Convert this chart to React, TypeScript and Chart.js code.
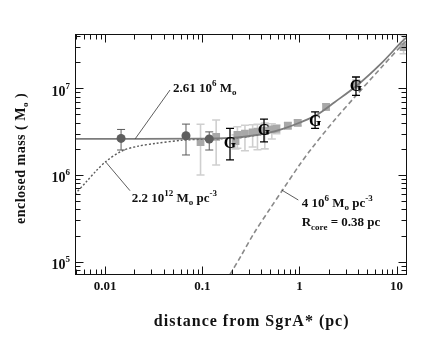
import React, { useEffect, useRef } from 'react';
import { Chart, registerables } from 'chart.js';

Chart.register(...registerables);

// ---- axis ranges & ticks ----
const X_MIN = 0.0049;
const X_MAX = 12.8;
const Y_MIN = 7.1e4;
const Y_MAX = 4.23e7;
const xMajorTicks = [0.01, 0.1, 1, 10];
const xTickLabels = ['0.01', '0.1', '1', '10'];
const yMajorTicks = [1e5, 1e6, 1e7];
const yTickExponents = ['5', '6', '7'];
const minorMultipliers = [2, 3, 4, 5, 6, 7, 8, 9];
const xDecades = [0.001, 0.01, 0.1, 1];
const yDecades = [1e4, 1e5, 1e6, 1e7];

// ---- model curves ----
const solidX = [0.0049, 0.1, 0.2, 0.3, 0.5, 0.7, 1.0, 1.5, 2.3, 4.0, 7.0, 11.2, 12.8];
const solidY = [2.61e6, 2.62e6, 2.68e6, 2.8e6, 3.1e6, 3.45e6, 4.0e6, 4.9e6, 6.9e6, 1.1e7, 1.95e7, 3.4e7, 3.9e7];

const dotX = [0.0049, 0.0065, 0.008, 0.0101, 0.015, 0.022, 0.033, 0.0625, 0.1, 0.2, 0.3, 0.5];
const dotY = [6.0e5, 8.5e5, 1.1e6, 1.42e6, 1.9e6, 2.15e6, 2.31e6, 2.52e6, 2.58e6, 2.65e6, 2.78e6, 3.08e6];

const dashX = [0.193, 0.249, 0.342, 0.5, 0.671, 1.0, 1.3, 2.3, 3.7, 7.0, 11.2, 12.8];
const dashY = [7.1e4, 1.15e5, 2.14e5, 4.1e5, 6.7e5, 1.3e6, 1.94e6, 4.3e6, 7.9e6, 1.75e7, 3.1e7, 3.6e7];

// ---- data points ----
const circleX = [0.0146, 0.068, 0.118];
const circleY = [2.64e6, 2.83e6, 2.6e6];
const circleLo = [1.94e6, 1.7e6, 1.94e6];
const circleHi = [3.35e6, 3.86e6, 3.14e6];

const squareX = [0.096, 0.139, 0.22, 0.23, 0.275, 0.33, 0.37, 0.44, 0.52, 0.58, 0.76, 0.96, 1.88, 3.85, 11.8];
const squareY = [2.39e6, 2.75e6, 2.45e6, 2.9e6, 3.0e6, 3.1e6, 3.15e6, 3.25e6, 3.35e6, 3.4e6, 3.7e6, 4.0e6, 6.1e6, 1.12e7, 2.98e7];
const squareLo = [1.0e6, 1.3e6, 2.0e6, 2.03e6, 1.9e6, 2.1e6, 1.95e6, 2.0e6, 2.6e6, 3.0e6, 3.4e6, 3.7e6, 5.6e6, 1.0e7, 2.5e7];
const squareHi = [3.85e6, 4.3e6, 2.9e6, 3.6e6, 3.75e6, 3.8e6, 3.85e6, 3.96e6, 3.9e6, 3.8e6, 4.0e6, 4.3e6, 6.6e6, 1.25e7, 4.1e7];

const gX = [0.193, 0.432, 1.45, 3.82];
const gY = [2.33e6, 3.29e6, 4.2e6, 1.08e7];
const gLo = [1.49e6, 2.41e6, 3.44e6, 8.3e6];
const gHi = [3.44e6, 4.4e6, 5.35e6, 1.35e7];

const FONT = '"Liberation Serif", "Times New Roman", Times, serif';

type Seg = { t: string; s: number; dy?: number };

function richWidth(ctx: CanvasRenderingContext2D, segs: Seg[]) {
  let w = 0;
  for (const g of segs) {
    ctx.font = `bold ${g.s}px ${FONT}`;
    w += ctx.measureText(g.t).width;
  }
  return w;
}

function drawRich(ctx: CanvasRenderingContext2D, x: number, y: number, segs: Seg[]) {
  ctx.textAlign = 'left';
  ctx.textBaseline = 'alphabetic';
  let cx = x;
  for (const g of segs) {
    ctx.font = `bold ${g.s}px ${FONT}`;
    ctx.fillText(g.t, cx, y + (g.dy || 0));
    cx += ctx.measureText(g.t).width;
  }
}

const pts = (xs: number[], ys: number[]) => xs.map((x, i) => ({ x, y: ys[i] }));

function drawBars(chart: any, xs: number[], lo: number[], hi: number[], color: string, lw: number, cap: number) {
  const ctx = chart.ctx as CanvasRenderingContext2D;
  const xs_ = chart.scales.x;
  const ys_ = chart.scales.y;
  const a = chart.chartArea;
  ctx.save();
  ctx.beginPath();
  ctx.rect(a.left, a.top, a.right - a.left, a.bottom - a.top);
  ctx.clip();
  ctx.strokeStyle = color;
  ctx.lineWidth = lw;
  xs.forEach((x, i) => {
    const px = xs_.getPixelForValue(x);
    const p1 = ys_.getPixelForValue(lo[i]);
    const p2 = ys_.getPixelForValue(hi[i]);
    ctx.beginPath();
    ctx.moveTo(px, p1);
    ctx.lineTo(px, p2);
    ctx.moveTo(px - cap, p1);
    ctx.lineTo(px + cap, p1);
    ctx.moveTo(px - cap, p2);
    ctx.lineTo(px + cap, p2);
    ctx.stroke();
  });
  ctx.restore();
}

const errorBarsPlugin = {
  id: 'errorBars',
  beforeDatasetsDraw(chart: any) {
    drawBars(chart, squareX, squareLo, squareHi, '#cfcfcf', 1.6, 4);
    drawBars(chart, circleX, circleLo, circleHi, '#5a5a5a', 1, 4);
  },
  afterDatasetsDraw(chart: any) {
    drawBars(chart, gX, gLo, gHi, '#000000', 1.3, 4);
    const ctx = chart.ctx as CanvasRenderingContext2D;
    ctx.save();
    ctx.fillStyle = '#000';
    ctx.font = `bold 16px ${FONT}`;
    ctx.textAlign = 'center';
    ctx.textBaseline = 'middle';
    gX.forEach((x, i) => {
      ctx.fillText('G', chart.scales.x.getPixelForValue(x), chart.scales.y.getPixelForValue(gY[i]) + 1);
    });
    ctx.restore();
  },
};

const framePlugin = {
  id: 'frame',
  afterDraw(chart: any) {
    const ctx = chart.ctx as CanvasRenderingContext2D;
    const a = chart.chartArea;
    const sx = chart.scales.x;
    const sy = chart.scales.y;
    const L = Math.round(a.left) + 0.5;
    const R = Math.round(a.right) - 0.5;
    const T = Math.round(a.top) + 0.5;
    const B = Math.round(a.bottom) - 0.5;
    ctx.save();
    ctx.strokeStyle = '#111';
    ctx.lineWidth = 1;
    ctx.strokeRect(L, T, R - L, B - T);

    const xMinor: number[] = [];
    xDecades.forEach((d) => minorMultipliers.forEach((m) => { const v = d * m; if (v >= X_MIN && v <= X_MAX) xMinor.push(v); }));
    const yMinor: number[] = [];
    yDecades.forEach((d) => minorMultipliers.forEach((m) => { const v = d * m; if (v >= Y_MIN && v <= Y_MAX) yMinor.push(v); }));

    ctx.beginPath();
    const xt = (v: number, len: number) => {
      const p = Math.round(sx.getPixelForValue(v)) + 0.5;
      ctx.moveTo(p, B); ctx.lineTo(p, B - len);
      ctx.moveTo(p, T); ctx.lineTo(p, T + len);
    };
    const yt = (v: number, len: number) => {
      const p = Math.round(sy.getPixelForValue(v)) + 0.5;
      ctx.moveTo(L, p); ctx.lineTo(L + len, p);
      ctx.moveTo(R, p); ctx.lineTo(R - len, p);
    };
    xMajorTicks.forEach((v) => xt(v, 8));
    xMinor.forEach((v) => xt(v, 5));
    yMajorTicks.forEach((v) => yt(v, 8));
    yMinor.forEach((v) => yt(v, 5));
    ctx.stroke();

    ctx.fillStyle = '#111';
    // x tick labels
    ctx.font = `bold 13px ${FONT}`;
    ctx.textAlign = 'center';
    ctx.textBaseline = 'alphabetic';
    xMajorTicks.forEach((v, i) => {
      ctx.fillText(xTickLabels[i], sx.getPixelForValue(v), 290);
    });
    // y tick labels
    yMajorTicks.forEach((v, i) => {
      const segs: Seg[] = [{ t: '10', s: 14 }, { t: yTickExponents[i], s: 9, dy: -7 }];
      const w = richWidth(ctx, segs);
      drawRich(ctx, 70 - w, sy.getPixelForValue(v) + 7.5, segs);
    });

    // x title
    (ctx as any).letterSpacing = '1px';
    const xt2: Seg[] = [{ t: 'distance from SgrA* (pc)', s: 16 }];
    const xw = richWidth(ctx, xt2);
    drawRich(ctx, 251.7 - xw / 2, 325.5, xt2);

    // y title (rotated)
    (ctx as any).letterSpacing = '0.5px';
    const ytSegs: Seg[] = [{ t: 'enclosed mass ( M', s: 14 }, { t: 'o', s: 9, dy: 3 }, { t: ' )', s: 14 }];
    const yw = richWidth(ctx, ytSegs);
    ctx.save();
    ctx.translate(25, 158.5);
    ctx.rotate(-Math.PI / 2);
    drawRich(ctx, -yw / 2, 0, ytSegs);
    ctx.restore();
    (ctx as any).letterSpacing = '0px';

    // annotations with leader lines
    ctx.strokeStyle = '#333';
    ctx.lineWidth = 0.8;
    ctx.beginPath();
    ctx.moveTo(sx.getPixelForValue(0.0204), sy.getPixelForValue(2.61e6));
    ctx.lineTo(170, 90);
    ctx.moveTo(sx.getPixelForValue(0.0101), sy.getPixelForValue(1.42e6));
    ctx.lineTo(130, 190.7);
    ctx.moveTo(sx.getPixelForValue(0.657), sy.getPixelForValue(6.7e5));
    ctx.lineTo(298.3, 200);
    ctx.stroke();

    drawRich(ctx, 173, 92, [
      { t: '2.61 10', s: 13 }, { t: '6', s: 9, dy: -6 }, { t: ' M', s: 13 }, { t: 'o', s: 9, dy: 3 },
    ]);
    drawRich(ctx, 131.7, 201.5, [
      { t: '2.2 10', s: 13 }, { t: '12', s: 9, dy: -6 }, { t: ' M', s: 13 }, { t: 'o', s: 9, dy: 3 },
      { t: ' pc', s: 13 }, { t: '-3', s: 9, dy: -6 },
    ]);
    drawRich(ctx, 301.7, 206.5, [
      { t: '4 10', s: 13 }, { t: '6', s: 9, dy: -6 }, { t: ' M', s: 13 }, { t: 'o', s: 9, dy: 3 },
      { t: ' pc', s: 13 }, { t: '-3', s: 9, dy: -6 },
    ]);
    drawRich(ctx, 301.7, 226, [
      { t: 'R', s: 13 }, { t: 'core', s: 9, dy: 4 }, { t: ' = 0.38 pc', s: 13 },
    ]);
    ctx.restore();
  },
};

export default function App() {
  const ref = useRef<HTMLCanvasElement | null>(null);
  useEffect(() => {
    if (!ref.current) return;
    const chart = new Chart(ref.current, {
      type: 'scatter',
      data: {
        datasets: [
          {
            data: pts(circleX, circleY),
            pointRadius: 4.5,
            pointBackgroundColor: '#5e5e5e',
            pointBorderColor: '#5e5e5e',
            pointBorderWidth: 0,
            showLine: false,
            order: 0,
          } as any,
          {
            data: pts(solidX, solidY),
            showLine: true,
            borderColor: '#7c7c7c',
            borderWidth: 1.8,
            pointRadius: 0,
            tension: 0.3,
            order: 1,
          },
          {
            data: pts(dotX, dotY),
            showLine: true,
            borderColor: '#5a5a5a',
            borderWidth: 1.4,
            borderDash: [2, 2],
            pointRadius: 0,
            tension: 0.3,
            order: 2,
          },
          {
            data: pts(dashX, dashY),
            showLine: true,
            borderColor: '#8a8a8a',
            borderWidth: 1.6,
            borderDash: [5, 3],
            pointRadius: 0,
            tension: 0.3,
            order: 3,
          },
          {
            data: pts(squareX, squareY),
            showLine: false,
            pointStyle: 'rect',
            pointRadius: 5.5,
            pointBackgroundColor: '#a8a8a8',
            pointBorderColor: '#a8a8a8',
            pointBorderWidth: 0,
            order: 5,
          },
        ],
      },
      options: {
        animation: false,
        responsive: false,
        maintainAspectRatio: false,
        layout: { padding: { left: 75, top: 34, right: 20, bottom: 71.5 } },
        scales: {
          x: { type: 'logarithmic', min: X_MIN, max: X_MAX, display: false },
          y: { type: 'logarithmic', min: Y_MIN, max: Y_MAX, display: false },
        },
        plugins: { legend: { display: false }, tooltip: { enabled: false } },
      },
      plugins: [errorBarsPlugin, framePlugin],
    });
    return () => chart.destroy();
  }, []);
  return (
    <div style={{ position: 'fixed', left: 0, top: 0, width: 427, height: 346, background: '#fff' }}>
      <canvas ref={ref} width={427} height={346} style={{ display: 'block' }} />
    </div>
  );
}
